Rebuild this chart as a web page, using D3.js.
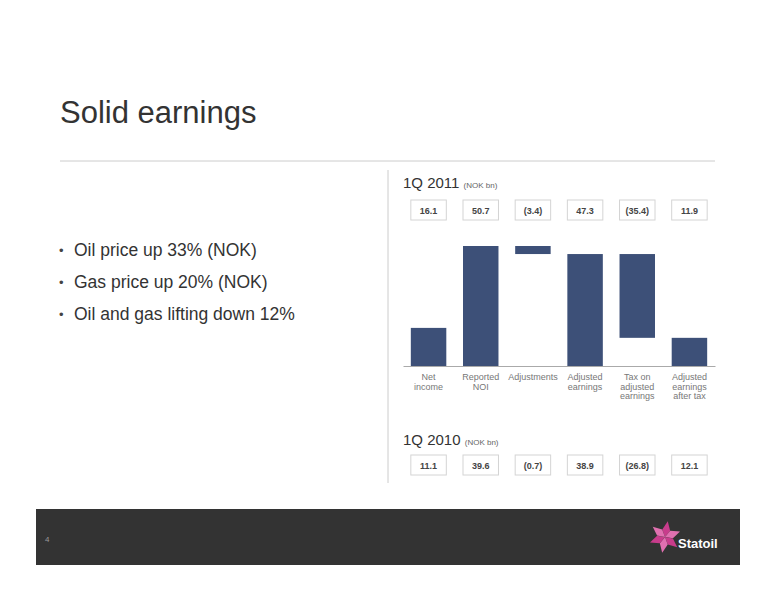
<!DOCTYPE html>
<html><head><meta charset="utf-8">
<script src="https://cdn.jsdelivr.net/npm/d3@7"></script>
<style>body{margin:0;background:#fff;font-family:"Liberation Sans",Arial,sans-serif;}</style>
</head><body>
<svg id="chart" width="776" height="600"></svg>
<script>
const categories = ["Net\nincome", "Reported\nNOI", "Adjustments", "Adjusted\nearnings", "Tax on\nadjusted\nearnings", "Adjusted\nearnings\nafter tax"];
const labels2011 = ["16.1", "50.7", "(3.4)", "47.3", "(35.4)", "11.9"];
const labels2010 = ["11.1", "39.6", "(0.7)", "38.9", "(26.8)", "12.1"];
const barStart = [0, 0, 50.7, 0, 47.3, 0];
const barEnd = [16.1, 50.7, 47.3, 47.3, 11.9, 11.9];
const bullets = ["Oil price up 33% (NOK)", "Gas price up 20% (NOK)", "Oil and gas lifting down 12%"];

const svg = d3.select("#chart");

svg.append("text").attr("x", 60).attr("y", 123).attr("font-size", 31).attr("fill", "#333").text("Solid earnings");
svg.append("line").attr("x1", 60).attr("x2", 715).attr("y1", 161).attr("y2", 161).attr("stroke", "#ccc");
svg.append("line").attr("x1", 388).attr("x2", 388).attr("y1", 170).attr("y2", 483).attr("stroke", "#ccc");

bullets.forEach((b, i) => {
  const y = 256 + i * 32;
  svg.append("text").attr("x", 59).attr("y", y - 1).attr("font-size", 13).attr("fill", "#444").text("•");
  svg.append("text").attr("x", 74).attr("y", y).attr("font-size", 17.5).attr("fill", "#333").text(b);
});

const x = d3.scaleBand().domain(categories).range([403, 715]).paddingInner(0.32).paddingOuter(0.15);
const y = d3.scaleLinear().domain([0, 50.7]).range([366, 246]);

function header(yy, year) {
  const t = svg.append("text").attr("x", 403).attr("y", yy).attr("fill", "#333");
  t.append("tspan").attr("font-size", 15).text(year + " ");
  t.append("tspan").attr("font-size", 8).attr("fill", "#666").text("(NOK bn)");
}
function boxes(yy, labs) {
  const g = svg.append("g");
  categories.forEach((c, i) => {
    g.append("rect").attr("x", x(c)).attr("y", yy).attr("width", x.bandwidth()).attr("height", 20)
      .attr("fill", "#fff").attr("stroke", "#d4d4d4");
    g.append("text").attr("x", x(c) + x.bandwidth() / 2).attr("y", yy + 14).attr("text-anchor", "middle")
      .attr("font-size", 9).attr("font-weight", "bold").attr("fill", "#444").text(labs[i]);
  });
}
header(188, "1Q 2011");
boxes(200, labels2011);
header(445, "1Q 2010");
boxes(455, labels2010);

svg.selectAll(".bar").data(categories).enter().append("rect")
  .attr("x", d => x(d)).attr("width", x.bandwidth())
  .attr("y", (d, i) => y(Math.max(barStart[i], barEnd[i])))
  .attr("height", (d, i) => Math.abs(y(barStart[i]) - y(barEnd[i])))
  .attr("fill", "#3d5078");

svg.append("g").attr("transform", "translate(0,366)")
  .call(d3.axisBottom(x).tickSize(0).tickFormat(""))
  .call(g => g.select(".domain").attr("stroke", "#aaa"));

categories.forEach(c => {
  const t = svg.append("text").attr("x", x(c) + x.bandwidth() / 2).attr("y", 380).attr("text-anchor", "middle")
    .attr("font-size", 9).attr("fill", "#777");
  c.split("\n").forEach((l, j) => t.append("tspan").attr("x", x(c) + x.bandwidth() / 2).attr("dy", j ? 9.5 : 0).text(l));
});

// footer
svg.append("rect").attr("x", 36).attr("y", 509).attr("width", 704).attr("height", 56).attr("fill", "#333");
svg.append("text").attr("x", 45).attr("y", 542).attr("font-size", 8).attr("fill", "#999").text("4");
const star = svg.append("g").attr("transform", "translate(665,537)");
for (let k = 0; k < 6; k++) {
  star.append("path").attr("d", "M0,0 L-4,-7 L0,-16 L4,-7 Z")
    .attr("fill", k % 2 ? "#e070b0" : "#c83c8c").attr("transform", `rotate(${k * 60 + 10})`);
}
svg.append("text").attr("x", 678).attr("y", 548).attr("font-size", 13).attr("font-weight", "bold")
  .attr("fill", "#fff").text("Statoil");
</script>
</body></html>
